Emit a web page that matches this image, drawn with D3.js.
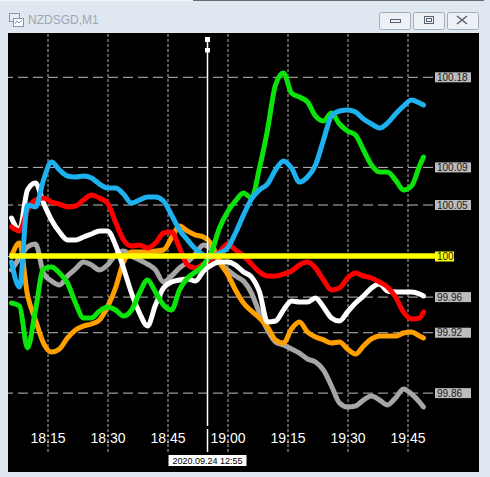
<!DOCTYPE html>
<html>
<head>
<meta charset="utf-8">
<script src="https://cdn.jsdelivr.net/npm/d3@7"></script>
<style>
body{margin:0;background:#dfe7f0;overflow:hidden;}
svg{display:block;}
</style>
</head>
<body>
<svg id="chart" width="490" height="477"></svg>
<script>
// ---- data ----
var symbolTitle = "NZDSGD,M1";
var baseLevel = 100;
var cursorTime = "18:55";
var cursorLabel = "2020.09.24 12:55";

// minutes after 18:00
var minutes = [6,8,10,12,14,16,18,20,22,24,26,28,30,32,34,36,38,40,42,44,46,48,50,52,54,56,58,60,62,64,66,68,70,72,74,76,78,80,82,84,86,88,90,92,94,96,98,100,102,104,106,108,109];

var blueValues = [99.9939,99.9687,100.0515,100.0495,100.0768,100.0949,100.0869,100.0808,100.0798,100.0808,
	100.0788,100.0727,100.0687,100.0687,100.0626,100.0535,100.0566,100.0596,100.0596,100.0556,
	100.0414,100.0263,100.0162,100.0071,100.0010,99.9990,100.0030,100.0081,100.0232,100.0414,
	100.0576,100.0667,100.0727,100.0869,100.0960,100.0889,100.0747,100.0798,100.0919,100.1172,
	100.1414,100.1465,100.1475,100.1455,100.1384,100.1333,100.1293,100.1343,100.1434,100.1515,
	100.1576,100.1545,100.1525];
var greenValues = [99.9525,99.9495,99.9071,99.9455,99.9869,99.9889,99.9828,99.9727,99.9525,99.9374,
	99.9374,99.9444,99.9485,99.9455,99.9394,99.9455,99.9626,99.9758,99.9636,99.9505,
	99.9455,99.9657,99.9778,99.9838,99.9909,100.0040,100.0283,100.0444,100.0556,100.0636,
	100.0586,100.0889,100.1273,100.1727,100.1848,100.1646,100.1606,100.1556,100.1414,100.1364,
	100.1444,100.1333,100.1263,100.1222,100.1071,100.0919,100.0848,100.0848,100.0768,100.0667,
	100.0707,100.0909,100.1000];
var redValues = [100.0293,100.0253,100.0465,100.0566,100.0586,100.0545,100.0525,100.0495,100.0505,100.0566,
	100.0616,100.0586,100.0535,100.0343,100.0162,100.0101,100.0111,100.0081,100.0131,100.0232,
	100.0242,100.0081,99.9909,99.9879,99.9919,99.9970,100.0040,100.0121,100.0061,100.0000,
	99.9919,99.9838,99.9798,99.9798,99.9818,99.9848,99.9909,99.9939,99.9879,99.9758,
	99.9657,99.9677,99.9778,99.9828,99.9798,99.9778,99.9737,99.9687,99.9586,99.9434,
	99.9364,99.9374,99.9434];
var whiteValues = [100.0384,100.0263,100.0667,100.0737,100.0535,100.0364,100.0242,100.0162,100.0162,100.0192,
	100.0222,100.0253,100.0253,100.0111,99.9879,99.9626,99.9424,99.9293,99.9505,99.9677,
	99.9737,99.9758,99.9768,99.9747,99.9848,99.9909,99.9939,99.9939,99.9909,99.9838,
	99.9788,99.9636,99.9333,99.9343,99.9455,99.9545,99.9535,99.9535,99.9576,99.9485,
	99.9374,99.9343,99.9434,99.9525,99.9596,99.9677,99.9717,99.9646,99.9636,99.9636,
	99.9636,99.9616,99.9596];
var orangeValues = [100.0000,100.0131,99.9606,99.9354,99.9121,99.9030,99.9061,99.9172,99.9253,99.9293,
	99.9313,99.9354,99.9485,99.9677,99.9939,100.0040,100.0040,100.0040,100.0051,100.0061,
	100.0182,100.0303,100.0253,100.0212,100.0192,100.0121,99.9939,99.9818,99.9657,99.9525,
	99.9444,99.9374,99.9283,99.9152,99.9121,99.9263,99.9333,99.9232,99.9182,99.9152,
	99.9121,99.9131,99.9061,99.9010,99.9091,99.9162,99.9192,99.9192,99.9192,99.9222,
	99.9232,99.9192,99.9172];
var greyValues = [99.9859,99.9980,100.0091,100.0121,99.9828,99.9747,99.9707,99.9798,99.9869,99.9939,
	99.9909,99.9859,99.9909,100.0010,100.0051,100.0000,99.9960,99.9919,99.9859,99.9737,
	99.9798,99.9879,99.9939,100.0020,100.0111,100.0061,99.9939,99.9859,99.9798,99.9747,
	99.9626,99.9424,99.9253,99.9131,99.9101,99.9061,99.9020,99.8960,99.8929,99.8848,
	99.8687,99.8515,99.8475,99.8485,99.8545,99.8586,99.8545,99.8495,99.8566,99.8657,
	99.8606,99.8525,99.8475];

var priceTicks = [100.181,100.090,100.052,100,99.959,99.923,99.862];
var priceLabels = ["100.18","100.09","100.05","100","99.96","99.92","99.86"];
var timeTicks = ["18:15","18:30","18:45","19:00","19:15","19:30","19:45"];

var ChartDraw = function(){
	var _this = this;

	_this.parseTime = d3.timeParse("%H:%M");

	_this.init = function(elementTag){
		_this.svg = d3.select(elementTag);
		var svg = _this.svg;
		var t0 = _this.parseTime("18:00");

		_this.series = [
			{name:"grey", color:"#a6a6a6", values:greyValues},
			{name:"orange", color:"#ffa000", values:orangeValues},
			{name:"white", color:"#ffffff", values:whiteValues},
			{name:"red", color:"#ff0000", values:redValues},
			{name:"green", color:"#0ae40a", values:greenValues},
			{name:"blue", color:"#1db1ef", values:blueValues}
		];
		_this.times = minutes.map(function(m){ return d3.timeMinute.offset(t0, m); });

		var x = d3.scaleTime()
			.domain([_this.parseTime("18:15"), _this.parseTime("19:45")])
			.range([47.5, 407.5]);
		var y = d3.scaleLinear()
			.domain([99.8, 100.2])
			.range([454, 58]);
		_this.x = x;
		_this.y = y;

		_this.drawFrame();

		// chart area
		svg.append("rect")
			.attr("x", 8).attr("y", 33)
			.attr("width", 471).attr("height", 439)
			.attr("fill", "#000");

		svg.append("clipPath").attr("id", "plotClip")
			.append("rect").attr("x", 8).attr("y", 33).attr("width", 471).attr("height", 439);

		// vertical grid + time labels
		var xAxis = d3.axisBottom(x)
			.tickValues(timeTicks.map(_this.parseTime))
			.tickFormat(d3.timeFormat("%H:%M"))
			.tickSize(-(452 - 33));
		var gX = svg.append("g")
			.attr("transform", "translate(0,452)")
			.call(xAxis);
		gX.select(".domain").remove();
		gX.selectAll(".tick line")
			.attr("stroke", "#b4b4b4")
			.attr("stroke-dasharray", "3,2");
		gX.selectAll(".tick text")
			.attr("y", -9).attr("dy", 0)
			.attr("fill", "#fff")
			.attr("font-family", "'Liberation Sans', Arial, sans-serif")
			.attr("font-size", 14);

		// horizontal grid
		var yAxis = d3.axisRight(y)
			.tickValues(priceTicks)
			.tickFormat(function(d, i){ return priceLabels[i]; })
			.tickSize(-(433 - 8))
			.tickPadding(5);
		var gY = svg.append("g")
			.attr("transform", "translate(433,0)")
			.call(yAxis);
		gY.select(".domain").remove();
		gY.selectAll(".tick line")
			.attr("stroke", "#bdbdbd")
			.attr("stroke-dasharray", "10,5");

		// lines
		var line = d3.line()
			.x(function(d){ return x(d.t); })
			.y(function(d){ return y(d.v); })
			.curve(d3.curveMonotoneX);

		var gLines = svg.append("g").attr("clip-path", "url(#plotClip)");
		gLines.selectAll("path.series")
			.data(_this.series)
			.enter().append("path")
			.attr("class", "series")
			.attr("fill", "none")
			.attr("stroke", function(s){ return s.color; })
			.attr("stroke-width", 5)
			.attr("stroke-linejoin", "round")
			.attr("stroke-linecap", "round")
			.attr("d", function(s){
				return line(s.values.map(function(v, i){ return {t:_this.times[i], v:v}; }));
			});

		// base level line (yellow)
		gLines.append("line")
			.attr("x1", x(_this.times[0]) - 2).attr("x2", 435)
			.attr("y1", y(baseLevel)).attr("y2", y(baseLevel))
			.attr("stroke", "#ffff00")
			.attr("stroke-width", 5.5);

		// price labels
		gY.selectAll(".tick").each(function(d, i){
			var g = d3.select(this);
			var isBase = (d === baseLevel);
			g.insert("rect", "text")
				.attr("x", 2).attr("y", -5)
				.attr("width", isBase ? 19 : 36).attr("height", 10)
				.attr("fill", isBase ? "#ffff00" : "#bcbcbc");
		});
		gY.selectAll(".tick text")
			.attr("x", 4).attr("dy", "0.35em")
			.attr("fill", "#1a1a1a")
			.attr("font-family", "'Liberation Sans', Arial, sans-serif")
			.attr("font-size", 10);

		_this.drawCursor();
	};

	_this.drawFrame = function(){
		var svg = _this.svg;
		svg.append("rect").attr("width", 490).attr("height", 477).attr("fill", "#dfe7f0");
		svg.append("line").attr("x1", 0).attr("x2", 193).attr("y1", 0.5).attr("y2", 0.5).attr("stroke", "#f3f5f8");
		svg.append("line").attr("x1", 193).attr("x2", 484).attr("y1", 0.5).attr("y2", 0.5).attr("stroke", "#6b6b6b");

		// icon
		var ic = svg.append("g");
		ic.append("rect").attr("x", 9.5).attr("y", 13.5).attr("width", 10).attr("height", 8)
			.attr("fill", "#e6eef8").attr("stroke", "#7d97b8");
		ic.append("rect").attr("x", 13.5).attr("y", 18.5).attr("width", 10).attr("height", 8)
			.attr("fill", "#fff").attr("stroke", "#7d97b8");
		ic.append("path").attr("d", "M15,24 L17,21 L19,23 L22,20")
			.attr("fill", "none").attr("stroke", "#7d97b8").attr("stroke-width", 1);

		svg.append("text")
			.attr("x", 28).attr("y", 24)
			.attr("fill", "#9ea6b0")
			.attr("font-family", "'Liberation Sans', Arial, sans-serif")
			.attr("font-size", 12)
			.text(symbolTitle);

		// window buttons
		var btnX = [379.5, 413.5, 447.5];
		btnX.forEach(function(bx){
			svg.append("rect").attr("x", bx).attr("y", 12.5).attr("width", 31).attr("height", 17).attr("rx", 2)
				.attr("fill", "#edf1f6").attr("stroke", "#a3aebb");
		});
		svg.append("rect").attr("x", 390.5).attr("y", 19.5).attr("width", 10).attr("height", 3)
			.attr("fill", "none").attr("stroke", "#5a6470");
		svg.append("rect").attr("x", 424.5).attr("y", 16.5).attr("width", 9).attr("height", 7)
			.attr("fill", "none").attr("stroke", "#5a6470");
		svg.append("rect").attr("x", 426.5).attr("y", 18.5).attr("width", 5).attr("height", 3)
			.attr("fill", "none").attr("stroke", "#5a6470");
		svg.append("path").attr("d", "M457,16 L467,24 M467,16 L457,24")
			.attr("stroke", "#5a6470").attr("stroke-width", 1.6);
	};

	_this.drawCursor = function(){
		var svg = _this.svg;
		var cx = Math.round(_this.x(_this.parseTime(cursorTime))) - 0.5;
		svg.append("rect").attr("x", cx - 2.5).attr("y", 37).attr("width", 5).attr("height", 5).attr("fill", "#fff");
		svg.append("rect").attr("x", cx - 2.5).attr("y", 48).attr("width", 5).attr("height", 4.5).attr("fill", "#fff");
		svg.append("line").attr("x1", cx).attr("x2", cx).attr("y1", 42).attr("y2", 48)
			.attr("stroke", "#fff").attr("stroke-width", 1.5);
		svg.append("line").attr("x1", cx).attr("x2", cx).attr("y1", 52).attr("y2", 426)
			.attr("stroke", "#fff").attr("stroke-width", 1.5);
		svg.append("line").attr("x1", cx).attr("x2", cx).attr("y1", 429).attr("y2", 452)
			.attr("stroke", "#fff").attr("stroke-width", 1.5);

		svg.append("rect").attr("x", cx - 39).attr("y", 455).attr("width", 78).attr("height", 11)
			.attr("fill", "#fff");
		svg.append("text")
			.attr("x", cx).attr("y", 464)
			.attr("text-anchor", "middle")
			.attr("fill", "#000")
			.attr("font-family", "'Liberation Sans', Arial, sans-serif")
			.attr("font-size", 9)
			.text(cursorLabel);
	};
};

var _ChartDraw = new ChartDraw();
_ChartDraw.init("#chart");
</script>
</body>
</html>
